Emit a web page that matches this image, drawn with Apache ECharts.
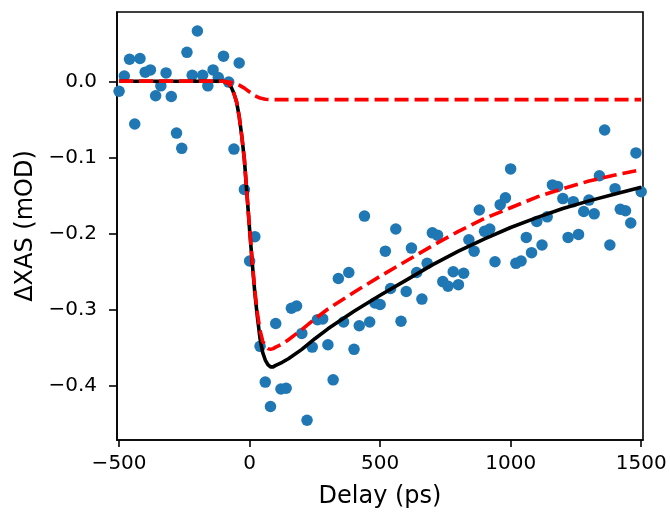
<!DOCTYPE html>
<html>
<head>
<meta charset="utf-8">
<script src="https://cdn.jsdelivr.net/npm/echarts@6/dist/echarts.min.js"></script>
<style>
html,body{margin:0;padding:0;background:#fff;}
#chart{width:670px;height:514px;}
</style>
</head>
<body>
<div id="chart"></div>
<script>
// Measured data (delay in ps, ΔXAS in mOD)
const delays = [-500,-480,-460,-440,-420,-400,-380,-360,-340,-320,-300,-280,-260,-240,-220,-200,-180,-160,-140,-120,-100,-80,-60,-40,-20,0,20,40,60,80,100,120,140,160,180,200,220,240,260,280,300,320,340,360,380,400,420,440,460,480,500,520,540,560,580,600,620,640,660,680,700,720,740,760,780,800,820,840,860,880,900,920,940,960,980,1000,1020,1040,1060,1080,1100,1120,1140,1160,1180,1200,1220,1240,1260,1280,1300,1320,1340,1360,1380,1400,1420,1440,1460,1480,1500];
const xasValues = [-0.013,0.007,0.029,-0.056,0.030,0.012,0.015,-0.019,-0.006,0.011,-0.020,-0.068,-0.088,0.038,0.008,0.066,0.008,-0.006,0.015,0.005,0.033,-0.001,-0.089,0.024,-0.142,-0.236,-0.204,-0.348,-0.395,-0.427,-0.318,-0.404,-0.403,-0.298,-0.295,-0.331,-0.445,-0.349,-0.313,-0.312,-0.346,-0.392,-0.259,-0.316,-0.251,-0.352,-0.321,-0.177,-0.316,-0.291,-0.293,-0.223,-0.272,-0.194,-0.315,-0.276,-0.219,-0.251,-0.286,-0.239,-0.199,-0.202,-0.263,-0.269,-0.250,-0.267,-0.252,-0.208,-0.223,-0.169,-0.197,-0.194,-0.237,-0.162,-0.153,-0.115,-0.239,-0.236,-0.205,-0.225,-0.184,-0.215,-0.178,-0.136,-0.138,-0.154,-0.205,-0.158,-0.201,-0.171,-0.156,-0.174,-0.124,-0.064,-0.215,-0.141,-0.168,-0.170,-0.186,-0.094,-0.145];

// Fit curves
const fitX = [-500,-100,-80,-70,-60,-50,-40,-30,-20,-10,0,10,20,30,40,50,60,70,80,90,100,125,150,200,250,300,400,500,600,700,800,900,1000,1100,1200,1300,1400,1500];
const fitTotal = [0,0,-0.003,-0.008,-0.016,-0.027,-0.046,-0.072,-0.103,-0.149,-0.195,-0.238,-0.278,-0.310,-0.338,-0.356,-0.366,-0.372,-0.375,-0.375,-0.373,-0.369,-0.364,-0.352,-0.338,-0.325,-0.302,-0.281,-0.261,-0.241,-0.223,-0.207,-0.192,-0.179,-0.167,-0.157,-0.148,-0.139];
const fitCompA = [0,0,-0.003,-0.008,-0.016,-0.027,-0.046,-0.072,-0.103,-0.149,-0.193,-0.236,-0.275,-0.305,-0.327,-0.341,-0.348,-0.351,-0.352,-0.351,-0.349,-0.345,-0.339,-0.326,-0.312,-0.299,-0.277,-0.256,-0.236,-0.216,-0.197,-0.180,-0.166,-0.152,-0.141,-0.131,-0.123,-0.116];
const compBX = [-500,-100,-80,-60,-40,-20,0,20,40,60,80,100,150,1500];
const fitCompB = [0,0,-0.001,-0.002,-0.005,-0.009,-0.014,-0.019,-0.022,-0.0235,-0.024,-0.024,-0.024,-0.024];

const xTicks = [-500,0,500,1000,1500];
const yTicks = [-0.4,-0.3,-0.2,-0.1,0.0];

const zip = (xs, ys) => xs.map((x,i)=>[x, ys[i]]);
const minus = s => s.replace('-', '\u2212');
const FONT = 'DejaVu Sans';
const FS = 20;
const FS_NAME = 24;

const chart = echarts.init(document.getElementById('chart'), null, {renderer:'canvas'});
chart.setOption({
  animation:false,
  backgroundColor:'#ffffff',
  grid:{left:117, right:27, top:12, bottom:73, show:true, borderColor:'#000', borderWidth:1.6, backgroundColor:'transparent'},
  xAxis:{
    type:'value', min:-508, max:1507,
    name:'Delay (ps)', nameLocation:'middle', nameGap:45,
    nameTextStyle:{fontFamily:FONT, fontSize:FS_NAME, color:'#000'},
    axisLine:{show:true, onZero:false, lineStyle:{color:'#000', width:1.6}},
    axisTick:{show:true, length:7, lineStyle:{color:'#000', width:1.6}, customValues:xTicks},
    axisLabel:{fontFamily:FONT, fontSize:FS, color:'#000', margin:14, customValues:xTicks,
      formatter:v=>minus(String(v))},
    splitLine:{show:false}
  },
  yAxis:{
    type:'value', min:-0.471, max:0.091,
    name:'\u0394XAS (mOD)', nameLocation:'middle', nameGap:76, nameRotate:90,
    nameTextStyle:{fontFamily:FONT, fontSize:FS_NAME, color:'#000'},
    axisLine:{show:true, onZero:false, lineStyle:{color:'#000', width:1.6}},
    axisTick:{show:true, length:8, lineStyle:{color:'#000', width:1.6}, customValues:yTicks},
    axisLabel:{fontFamily:FONT, fontSize:FS, color:'#000', margin:20, customValues:yTicks,
      formatter:v=>minus(v.toFixed(1))},
    splitLine:{show:false}
  },
  series:[
    {type:'scatter', data:zip(delays, xasValues), symbolSize:11.5, itemStyle:{color:'#1f77b4', opacity:1}, z:2},
    {type:'line', data:zip(fitX, fitTotal), showSymbol:false, smooth:false,
      lineStyle:{color:'#000', width:3.6, join:'round'}, z:3},
    {type:'line', data:zip(fitX, fitCompA), showSymbol:false, smooth:false,
      lineStyle:{color:'#ff0000', width:3.6, type:[14,6]}, z:4},
    {type:'line', data:zip(compBX, fitCompB), showSymbol:false, smooth:false,
      lineStyle:{color:'#ff0000', width:3.6, type:[14,6]}, z:4}
  ]
});
</script>
</body>
</html>
